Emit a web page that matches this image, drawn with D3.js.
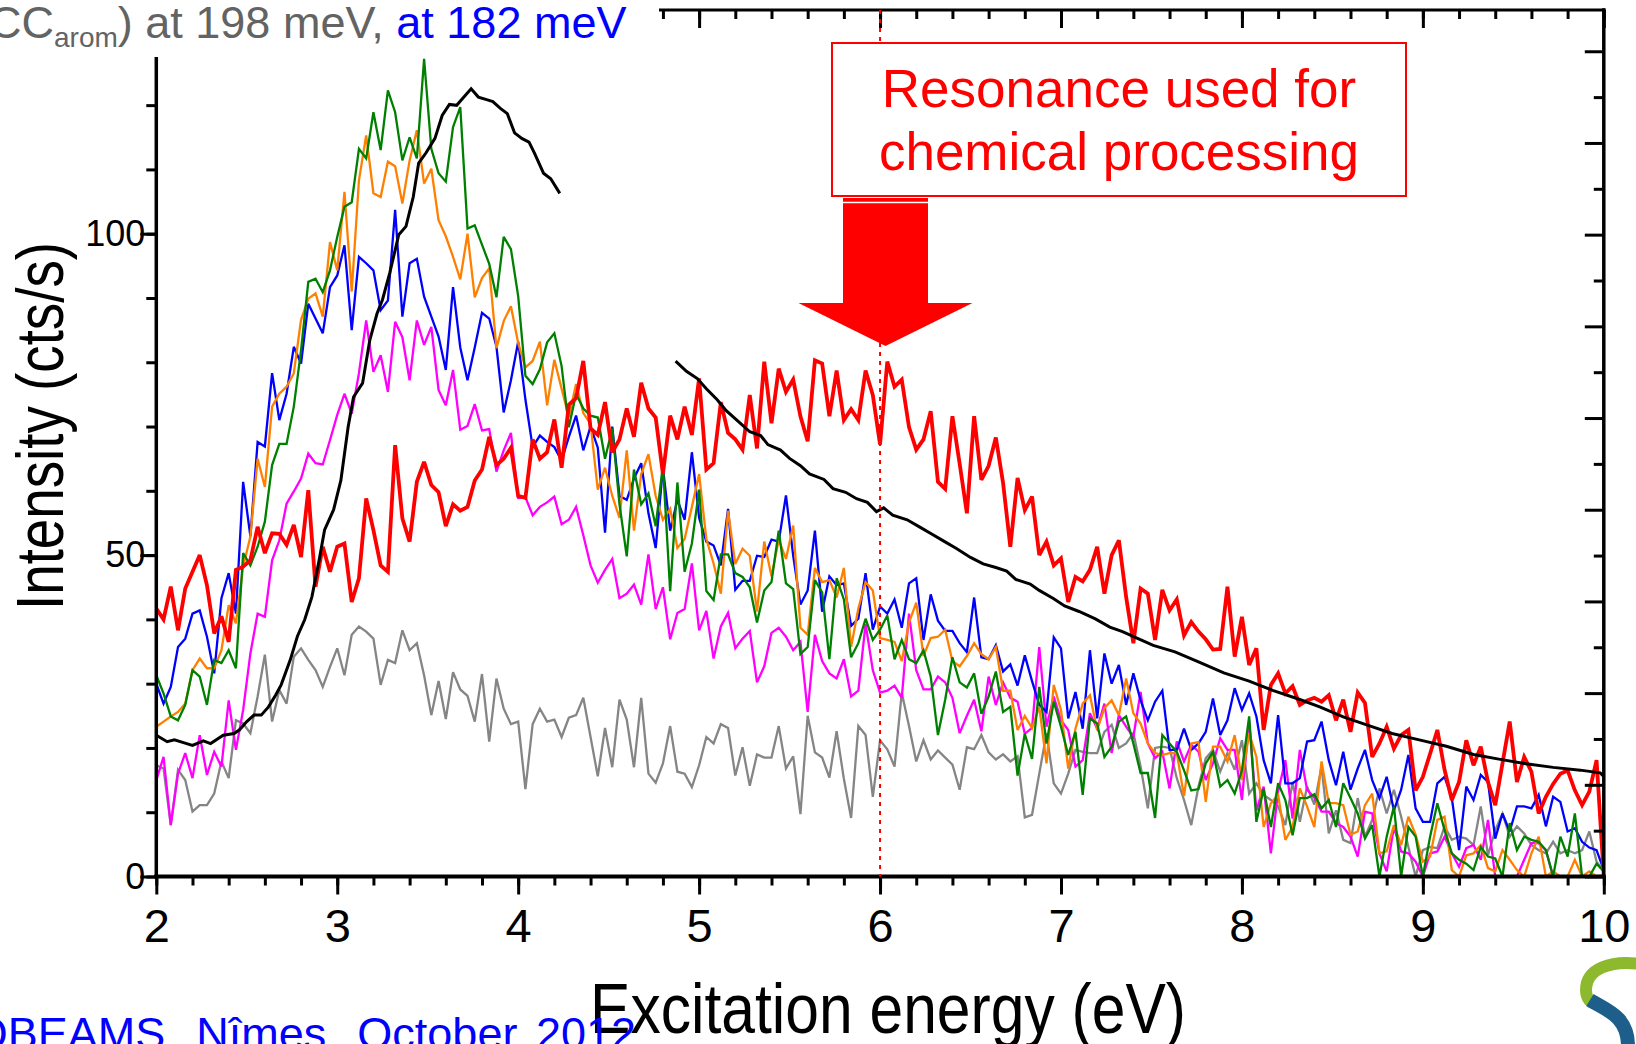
<!DOCTYPE html>
<html>
<head>
<meta charset="utf-8">
<script src="https://cdn.jsdelivr.net/npm/d3@7"></script>
<style>
  body { margin: 0; background: #fff; }
  svg { display: block; }
  text { font-family: "Liberation Sans", Arial, sans-serif; }
</style>
</head>
<body>
<script>
// Excitation energy grid: 2.00 → 10.00 eV in 0.04 eV steps (201 channels)
const energyGrid = d3.range(0, 201).map(i => +(2 + 0.04 * i).toFixed(2));

// Intensity (cts/s) per channel for each measured ion
const redCounts = [41.7,40.0,45.1,38.3,44.8,47.4,50.0,45.3,37.8,40.5,36.5,
  47.7,48.2,49.2,54.4,50.3,53.4,53.3,51.6,54.7,49.7,
  60.1,45.1,51.3,47.4,51.3,51.8,42.7,46.4,58.8,53.9,
  48.4,47.4,67.1,55.7,52.1,61.4,64.5,60.9,59.8,54.5,
  57.9,56.9,57.5,61.6,63.3,68.4,64.0,65.0,66.7,59.2,
  58.9,68.0,65.0,66.0,71.1,63.6,73.4,74.4,80.2,69.7,
  68.7,73.8,66.0,68.0,72.8,68.4,76.8,72.8,71.4,62.6,
  71.7,68.0,73.1,68.7,77.5,63.3,64.3,73.8,69.0,68.0,
  66.4,74.9,66.6,80.1,70.5,79.0,75.4,77.3,71.6,67.7,
  80.3,79.8,71.6,78.7,71.0,72.7,71.0,78.7,74.9,67.2,
  80.1,76.2,77.3,69.9,66.4,68.0,72.4,61.4,60.3,71.6,
  64.2,56.5,71.6,61.7,63.9,68.3,61.2,51.3,62.0,57.0,
  59.1,50.0,52.1,48.4,49.5,42.7,46.6,45.9,47.7,51.3,
  44.0,50.0,52.3,43.5,36.3,44.8,44.0,36.8,44.6,41.4,
  43.1,37.5,39.6,38.1,36.9,35.3,35.4,45.1,34.2,40.4,
  32.9,35.5,22.8,29.8,31.6,28.5,29.6,26.7,27.4,27.8,
  27.2,28.2,24.3,27.5,22.5,28.6,27.0,18.6,20.7,23.3,
  19.9,22.0,22.8,13.4,15.5,19.1,22.8,16.6,11.9,14.7,
  21.2,17.3,20.2,14.7,11.1,17.6,24.1,14.7,18.6,16.3,
  9.8,12.4,14.4,16.0,16.5,13.4,11.1,13.2,18.1,0];

const blueCounts = [30.0,26.9,29.5,35.7,37.0,40.9,41.4,37.3,31.6,43.3,47.2,
  40.9,61.4,52.9,67.6,66.9,78.3,71.0,75.1,82.4,79.8,
  89.1,86.8,84.5,91.7,93.5,98.2,85.0,96.4,95.4,94.3,
  88.1,89.6,103.7,87.1,95.4,96.1,90.2,87.1,84.0,78.8,
  91.7,82.3,77.2,82.3,87.7,86.8,82.4,72.2,77.2,83.2,
  74.2,66.8,68.6,67.6,66.8,64.7,68.4,71.7,66.3,70.0,
  66.7,53.5,70.0,59.2,58.6,61.9,64.3,56.5,51.1,63.6,
  53.8,58.6,55.5,66.0,55.8,52.1,51.5,48.4,57.2,44.6,
  46.0,46.0,49.9,49.7,52.4,52.1,59.3,49.9,42.3,44.5,
  53.8,41.2,46.7,45.3,45.6,39.0,40.1,47.2,38.4,42.0,
  40.9,43.1,38.7,45.6,46.4,36.8,43.9,39.8,38.2,38.2,
  36.3,34.9,43.4,34.1,33.8,36.0,31.9,33.0,29.7,34.4,
  30.4,26.7,25.6,37.2,35.5,24.6,28.7,23.0,35.2,24.6,
  34.7,30.0,32.9,26.7,31.6,27.4,24.3,27.2,28.9,19.7,
  19.7,23.0,19.7,20.7,22.5,27.7,22.0,24.3,29.3,25.9,
  28.5,24.9,18.1,14.5,25.1,14.5,14.5,15.3,21.0,21.2,
  24.1,18.1,14.2,19.4,13.5,16.8,19.7,15.0,12.2,15.5,
  10.3,13.5,18.9,10.6,8.5,8.5,14.5,15.5,12.2,4.1,
  14.0,11.9,15.8,14.7,5.9,9.8,7.0,10.9,10.9,10.6,
  12.7,7.8,12.4,11.6,7.0,7.5,5.4,4.5,4.1,1.0];

const orangeCounts = [23.3,24.1,24.9,25.6,26.9,32.1,33.9,32.4,32.4,35.2,42.2,
  39.4,48.2,52.9,65.0,60.6,73.1,75.1,76.2,78.3,86.6,
  89.9,90.7,87.1,98.7,94.3,106.5,91.0,108.3,115.3,106.3,
  105.7,111.2,110.5,104.7,111.4,116.1,107.8,110.1,102.1,99.6,
  96.4,92.9,100.0,90.1,93.1,94.6,82.2,86.4,88.7,83.0,
  79.2,80.2,83.2,73.3,80.4,75.9,71.5,76.6,72.1,70.4,
  60.2,63.6,59.2,55.8,66.3,53.8,62.6,65.7,59.2,55.5,
  57.2,51.1,52.5,57.5,62.6,52.5,48.7,44.0,56.9,48.6,
  51.0,49.9,41.2,52.1,46.7,52.4,49.4,54.6,38.7,37.6,
  48.0,45.8,46.1,43.4,48.0,35.7,41.7,45.8,44.5,37.1,
  36.8,36.5,33.5,39.5,42.6,34.3,37.1,37.3,38.4,33.5,
  32.7,34.3,36.3,34.6,33.8,35.7,28.9,28.9,22.8,25.0,
  23.1,26.4,17.6,29.8,25.9,16.8,23.0,26.9,28.2,22.8,
  26.2,27.4,25.1,30.8,25.4,23.8,20.7,19.2,18.9,19.2,
  19.2,12.5,20.7,20.9,11.6,20.2,20.2,17.9,22.0,15.0,
  22.3,18.6,7.7,11.4,12.7,5.7,7.7,13.7,10.9,7.7,
  17.9,11.4,11.4,11.1,6.5,7.0,11.1,12.9,3.6,3.9,
  8.0,4.9,9.3,6.5,2.3,3.1,8.8,9.3,1.0,0,
  3.3,3.6,4.9,1.3,0.8,4.1,2.6,1.0,0,3.6,
  6.2,0,0.8,0,0,2.6,0,0.8,0,0.2];

const greenCounts = [31.3,28.5,24.9,24.3,26.7,32.1,31.1,26.7,33.7,33.2,35.2,
  32.4,50.3,48.4,51.3,55.2,64.0,67.3,67.3,73.1,81.9,
  92.5,93.0,90.9,94.3,99.5,104.2,104.9,113.2,111.7,118.9,
  113.0,122.3,118.9,111.4,115.0,111.7,127.2,113.2,109.4,108.1,
  116.6,119.7,100.8,101.3,98.3,95.3,90.1,99.5,97.6,90.3,
  77.9,76.6,78.9,83.1,84.5,79.4,69.9,75.1,72.8,71.7,
  71.4,65.0,69.7,57.9,49.8,63.3,57.9,59.6,54.5,64.0,
  44.4,61.3,47.4,51.8,60.2,44.4,43.0,50.1,50.1,47.2,
  46.6,45.0,39.5,44.5,45.8,53.8,45.6,44.7,34.6,35.7,
  46.1,44.2,33.8,46.4,43.1,34.1,36.3,40.1,36.8,38.4,
  40.6,33.8,36.8,33.8,33.2,35.2,31.1,22.0,27.5,34.1,
  30.2,29.4,31.6,25.3,28.0,31.9,25.6,26.4,15.7,22.2,
  18.3,29.5,20.7,27.2,23.3,18.9,22.5,12.7,24.6,23.8,
  18.6,20.2,24.1,24.9,20.7,16.1,16.1,9.1,22.0,20.7,
  19.4,16.5,13.4,13.6,17.6,19.4,14.0,15.0,12.9,16.5,
  24.9,8.5,13.6,7.7,14.5,11.9,6.4,12.2,12.2,12.8,
  10.6,11.9,7.7,14.5,12.2,9.8,5.9,8.0,0,6.2,
  10.9,0,7.7,6.2,0,6.2,11.4,7.2,3.6,2.6,
  2.0,1.0,4.6,3.1,2.8,0,8.3,4.1,6.2,5.7,
  5.4,4.1,0,6.2,3.1,9.8,0,0,2.0,0.8];

const magentaCounts = [15.0,18.6,8.0,16.0,19.2,15.3,22.0,15.8,19.4,17.1,27.4,
  19.7,25.9,34.7,40.9,40.4,49.2,52.3,58.0,59.9,61.9,
  65.8,64.3,64.1,67.9,71.8,75.1,72.0,78.3,86.5,78.5,
  81.1,75.4,86.3,83.9,77.2,86.5,82.7,85.5,75.7,73.3,
  78.8,69.5,70.1,73.5,69.4,69.6,63.0,66.3,69.0,58.9,
  59.0,56.2,57.5,58.2,59.1,54.8,55.5,57.5,53.1,48.4,
  45.7,47.7,49.4,43.3,44.0,45.4,42.3,50.1,41.6,45.0,
  36.9,41.0,41.6,48.7,38.3,41.3,33.9,38.9,41.0,35.5,
  37.0,38.2,30.2,32.7,37.9,38.7,37.3,35.2,36.5,25.6,
  37.6,33.5,31.6,30.8,33.8,28.0,28.9,39.3,32.1,28.6,
  28.9,29.7,27.8,40.9,32.1,29.1,29.1,31.1,30.2,27.8,
  22.3,25.0,27.5,22.6,31.1,26.7,30.2,27.8,27.2,22.2,
  23.1,35.7,23.3,28.0,24.3,22.8,17.1,18.1,25.4,23.0,
  26.9,19.2,25.1,23.3,21.7,28.7,20.7,18.4,19.4,13.7,
  21.0,17.9,20.5,19.4,15.0,17.6,21.5,19.7,19.7,11.9,
  24.3,10.3,14.0,3.6,13.2,18.1,9.0,19.7,13.5,12.3,
  10.1,10.1,8.3,7.7,6.2,3.1,10.1,9.8,3.6,0.8,
  7.7,3.9,3.6,2.3,0,3.6,3.9,6.2,3.6,1.5,
  4.4,4.9,2.6,8.8,0,0,0,0,2.6,5.2,
  5.2,4.1,0,0,0,0,0,0,0,0];

const greyCounts = [17.3,16.8,8.0,16.6,15.0,10.1,11.1,11.1,12.9,17.9,15.3,
  24.3,23.8,22.3,28.0,34.5,24.1,29.0,26.9,34.2,35.5,
  33.7,32.1,29.5,32.6,35.5,31.3,37.6,38.9,38.1,37.0,
  29.8,33.7,33.2,38.3,35.2,36.3,31.3,25.1,30.4,24.5,
  31.8,29.1,28.1,24.1,31.5,21.0,30.8,26.1,23.7,24.1,
  13.6,23.7,26.1,24.1,24.4,21.7,24.7,25.1,27.8,21.7,
  15.6,23.1,17.0,27.5,24.4,17.0,27.8,16.0,14.6,17.6,
  23.4,16.3,16.0,13.9,17.3,21.7,20.7,23.7,23.1,15.7,
  20.1,14.1,19.0,18.5,18.5,23.4,16.8,18.7,9.7,25.0,
  19.3,18.5,15.4,22.6,15.2,9.1,23.4,22.0,12.4,21.2,
  19.8,17.1,28.6,23.4,17.9,21.2,18.2,19.6,18.5,17.4,
  13.5,20.1,19.8,22.0,19.3,18.2,19.0,17.9,18.7,9.2,
  9.6,16.0,22.3,14.5,12.9,16.0,19.7,19.4,19.2,19.2,
  22.5,23.6,20.0,20.7,22.3,17.1,10.6,20.0,20.2,20.0,
  15.3,11.9,8.0,14.0,18.4,19.7,16.3,19.2,16.6,21.2,
  12.9,14.5,12.7,11.9,10.9,8.0,14.7,8.5,14.0,11.2,
  17.1,6.7,10.3,5.7,5.2,12.2,6.2,8.8,13.7,9.8,
  13.5,9.3,4.6,0,4.1,4.6,4.4,7.8,5.7,6.2,
  5.9,4.9,10.9,3.3,7.2,9.8,6.2,7.8,6.7,4.9,
  4.1,3.6,5.4,3.6,4.1,3.6,4.1,7.0,2.3,0.8];

// Reference absorption curve (right-hand scale), measured in two separate ranges
const absorptionLowE = [2.00,2.06,2.10,2.15,2.20,2.26,2.30,2.37,2.43,2.46,2.50,2.54,2.58,2.62,2.66,2.69,
  2.74,2.78,2.82,2.86,2.90,2.93,2.98,3.02,3.06,3.09,3.14,3.18,3.22,3.25,3.29,3.34,3.38,3.42,3.45,3.49,
  3.54,3.58,3.62,3.66,3.70,3.74,3.78,3.83,3.86,3.90,3.94,3.98,4.02,4.06,4.09,4.14,4.18,4.23];
const absorptionLow = [1.54,1.47,1.49,1.46,1.43,1.48,1.45,1.54,1.56,1.60,1.69,1.76,1.76,1.85,1.98,2.09,
  2.36,2.62,2.80,3.05,3.45,3.78,4.00,4.32,4.90,5.23,5.38,5.85,6.14,6.29,6.58,7.00,7.09,7.41,7.78,7.89,
  8.05,8.30,8.42,8.41,8.50,8.59,8.50,8.47,8.45,8.38,8.32,8.11,8.05,8.01,7.89,7.67,7.61,7.45];
const absorptionHighE = [4.87,4.93,4.99,5.04,5.10,5.15,5.23,5.28,5.34,5.38,5.45,5.50,5.56,5.61,5.69,5.74,
  5.81,5.87,5.93,5.98,6.02,6.07,6.15,6.22,6.29,6.35,6.42,6.50,6.57,6.64,6.70,6.75,6.83,6.88,6.96,7.02,
  7.10,7.19,7.27,7.34,7.42,7.51,7.63,7.76,7.90,8.04,8.17,8.32,8.43,8.56,8.71,8.83,8.98,9.13,9.28,9.42,
  9.57,9.72,9.87,9.98,10.00];
const absorptionHigh = [5.62,5.51,5.43,5.32,5.20,5.08,4.94,4.85,4.81,4.71,4.65,4.56,4.48,4.39,4.33,4.23,
  4.19,4.12,4.08,3.98,4.02,3.94,3.89,3.81,3.73,3.66,3.58,3.48,3.41,3.37,3.33,3.24,3.19,3.12,3.03,2.95,
  2.89,2.81,2.72,2.67,2.60,2.52,2.45,2.34,2.22,2.13,2.03,1.93,1.85,1.74,1.64,1.56,1.49,1.42,1.33,1.28,
  1.23,1.19,1.16,1.13,1.09];

const xTickValues = [2, 3, 4, 5, 6, 7, 8, 9, 10];
const yTickValues = [0, 50, 100];
const resonanceEnergy = 6;

const seriesList = [
  { name: "grey",    values: greyCounts,    color: "#858585", width: 2.3 },
  { name: "magenta", values: magentaCounts, color: "#ff00ff", width: 2.3 },
  { name: "blue",    values: blueCounts,    color: "#0000ff", width: 2.3 },
  { name: "orange",  values: orangeCounts,  color: "#ff8000", width: 2.3 },
  { name: "green",   values: greenCounts,   color: "#008000", width: 2.3 },
  { name: "red",     values: redCounts,     color: "#ff0000", width: 3.8 }
];

const W = 1636, H = 1044;
const plot = { left: 156.3, right: 1603.8, top: 10, bottom: 876.5 };

const svg = d3.select("body").append("svg")
  .attr("width", W).attr("height", H)
  .attr("viewBox", `0 0 ${W} ${H}`);

const x = d3.scaleLinear().domain([2, 10]).range([plot.left, plot.right]);
const y = d3.scaleLinear().domain([0, 134.8]).range([plot.bottom, plot.top]);
const yRight = d3.scaleLinear().domain([0, 9.45]).range([plot.bottom, plot.top]);

svg.append("defs").append("clipPath").attr("id", "plotClip")
  .append("rect")
  .attr("x", plot.left).attr("y", plot.top)
  .attr("width", plot.right - plot.left).attr("height", plot.bottom - plot.top);

// ---- spectra ----
const traces = svg.append("g").attr("clip-path", "url(#plotClip)");
const countLine = d3.line()
  .x((d, i) => x(energyGrid[i]))
  .y(d => y(d));

seriesList.forEach(s => {
  traces.append("path")
    .datum(s.values)
    .attr("fill", "none")
    .attr("stroke", s.color)
    .attr("stroke-width", s.width)
    .attr("stroke-linejoin", "miter")
    .attr("stroke-miterlimit", 3)
    .attr("d", countLine);
});

const absLine = d3.line().x(d => x(d[0])).y(d => yRight(d[1]));
[[absorptionLowE, absorptionLow], [absorptionHighE, absorptionHigh]].forEach(([es, vs]) => {
  traces.append("path")
    .datum(es.map((e, i) => [e, vs[i]]))
    .attr("fill", "none")
    .attr("stroke", "#000")
    .attr("stroke-width", 3)
    .attr("d", absLine);
});

// ---- axes ----
const axisColor = "#000";
function styleAxis(g) {
  g.select(".domain").remove();
  g.selectAll(".tick line").attr("stroke", axisColor).attr("stroke-width", 3);
}

// bottom axis: minor every 0.2 eV, major every 1 eV (outward)
svg.append("g").attr("transform", `translate(0,${plot.bottom})`)
  .call(d3.axisBottom(x).tickValues(d3.range(2, 10.001, 0.2)).tickSize(9).tickFormat(""))
  .call(styleAxis);
const xAxisG = svg.append("g").attr("transform", `translate(0,${plot.bottom})`)
  .call(d3.axisBottom(x).tickValues(xTickValues).tickSize(18).tickPadding(14).tickFormat(d3.format("d")))
  .call(styleAxis);
xAxisG.selectAll("text")
  .attr("font-size", 47).attr("fill", "#000")
  .attr("font-family", "'Liberation Sans', Arial, sans-serif");

// top axis: ticks point into the plot
svg.append("g").attr("transform", `translate(0,${plot.top})`)
  .call(d3.axisBottom(x).tickValues(d3.range(2, 10.001, 0.2)).tickSize(9).tickFormat(""))
  .call(styleAxis);
svg.append("g").attr("transform", `translate(0,${plot.top})`)
  .call(d3.axisBottom(x).tickValues(xTickValues).tickSize(18).tickFormat(""))
  .call(styleAxis);

// left axis: minor every 10, major 0 / 50 / 100 (outward)
svg.append("g").attr("transform", `translate(${plot.left},0)`)
  .call(d3.axisLeft(y).tickValues(d3.range(0, 131, 10)).tickSize(10).tickFormat(""))
  .call(styleAxis);
const yAxisG = svg.append("g").attr("transform", `translate(${plot.left},0)`)
  .call(d3.axisLeft(y).tickValues(yTickValues).tickSize(16).tickPadding(-5).tickFormat(d3.format("d")))
  .call(styleAxis);
yAxisG.selectAll("text")
  .attr("font-size", 36).attr("fill", "#000")
  .attr("font-family", "'Liberation Sans', Arial, sans-serif");

// right axis (absorption scale): ticks point into the plot, no labels
svg.append("g").attr("transform", `translate(${plot.right},0)`)
  .call(d3.axisRight(yRight).tickValues(d3.range(0.5, 9.45, 1)).tickSize(-10).tickFormat(""))
  .call(styleAxis);
svg.append("g").attr("transform", `translate(${plot.right},0)`)
  .call(d3.axisRight(yRight).tickValues(d3.range(0, 9.45, 1)).tickSize(-19).tickFormat(""))
  .call(styleAxis);

// frame
const frame = svg.append("g").attr("stroke", axisColor).attr("stroke-linecap", "square");
frame.append("line").attr("x1", plot.left).attr("x2", plot.right).attr("y1", plot.bottom).attr("y2", plot.bottom).attr("stroke-width", 4);
frame.append("line").attr("x1", plot.left).attr("x2", plot.left).attr("y1", plot.top).attr("y2", plot.bottom).attr("stroke-width", 3.5);
frame.append("line").attr("x1", plot.left).attr("x2", plot.right).attr("y1", plot.top).attr("y2", plot.top).attr("stroke-width", 3);
frame.append("line").attr("x1", plot.right).attr("x2", plot.right).attr("y1", plot.top).attr("y2", plot.bottom).attr("stroke-width", 3.5);

// resonance marker
svg.append("line")
  .attr("x1", x(resonanceEnergy)).attr("x2", x(resonanceEnergy))
  .attr("y1", plot.top).attr("y2", plot.bottom)
  .attr("stroke", "#ff0000").attr("stroke-width", 2)
  .attr("stroke-dasharray", "4,5");

// ---- annotation box and arrow ----
const arrowX = 885.5;
const arrow = svg.append("g").attr("fill", "#ff0000");
arrow.append("rect").attr("x", arrowX - 42.5).attr("y", 198).attr("width", 85).attr("height", 106);
arrow.append("path").attr("d", `M${arrowX - 87},303 L${arrowX + 87},303 L${arrowX},346 Z`);
svg.append("line").attr("x1", arrowX - 42.5).attr("x2", arrowX + 42.5).attr("y1", 202.5).attr("y2", 202.5)
  .attr("stroke", "#fff").attr("stroke-width", 1.5);

svg.append("rect")
  .attr("x", 832).attr("y", 43).attr("width", 574).attr("height", 153)
  .attr("fill", "#fff").attr("stroke", "#ff0000").attr("stroke-width", 2);
const note = svg.append("text")
  .attr("text-anchor", "middle").attr("fill", "#ff0000").attr("font-size", 53);
note.append("tspan").attr("x", 1119).attr("y", 107).text("Resonance used for");
note.append("tspan").attr("x", 1119).attr("y", 170).text("chemical processing");

// ---- header strip ----
svg.append("rect").attr("x", 0).attr("y", 0).attr("width", 659).attr("height", 57).attr("fill", "#fff");
const head = svg.append("text").attr("x", -11).attr("y", 37.6).attr("font-size", 45).attr("fill", "#636363");
head.append("tspan").text("CC");
head.append("tspan").attr("dy", 9).attr("font-size", 28).text("arom");
head.append("tspan").attr("dy", -9).text(") at 198 meV, ");
head.append("tspan").attr("fill", "#0000ff").text("at 182 meV");

// ---- axis titles (condensed lettering) ----
svg.append("text")
  .attr("x", 888).attr("y", 1033)
  .attr("text-anchor", "middle")
  .attr("font-size", 70).attr("fill", "#000")
  .attr("textLength", 596).attr("lengthAdjust", "spacingAndGlyphs")
  .text("Excitation energy (eV)");

svg.append("text")
  .attr("transform", "translate(63,426) rotate(-90)")
  .attr("text-anchor", "middle")
  .attr("font-size", 66).attr("fill", "#000")
  .attr("textLength", 368).attr("lengthAdjust", "spacingAndGlyphs")
  .text("Intensity (cts/s)");

// ---- footer ----
svg.append("text")
  .attr("x", 636).attr("y", 1049).attr("text-anchor", "end")
  .attr("font-size", 45).attr("fill", "#0000ff")
  .attr("word-spacing", 6)
  .text("OBEAMS, Nîmes, October 2012");

// corner logo
const logo = svg.append("g").attr("fill", "none").attr("stroke-linecap", "butt");
logo.append("path").attr("d", "M1640,964 C1612,960 1586,968 1586,990 C1586,996 1588,1000 1592,1003")
  .attr("stroke", "#8cb92d").attr("stroke-width", 12);
logo.append("path").attr("d", "M1590,1000 C1606,1010 1628,1016 1628,1046")
  .attr("stroke", "#1d5f8a").attr("stroke-width", 14);
</script>
</body>
</html>
